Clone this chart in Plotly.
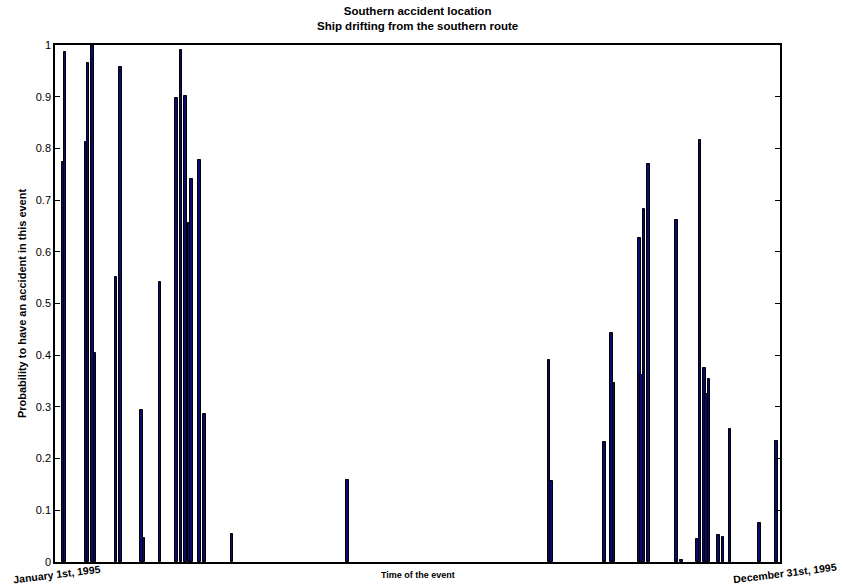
import plotly.graph_objects as go

# Day of year of each event (1995)
days = [4.1, 5.1, 15.5, 16.6, 18.9, 20.2, 30.7, 33.1, 43.6, 44.8,
        52.9, 61.1, 63.5, 65.8, 67.5, 68.7, 72.7, 75.2, 89.2, 147.3,
        248.7, 249.9, 276.7, 280.1, 281.4, 294.3, 295.4, 296.6, 298.9, 313.0,
        315.4, 323.5, 324.7, 327.0, 328.1, 329.3, 334.0, 336.2, 339.9, 354.8,
        363.1]
# Probability to have an accident in each event
probs = [0.774, 0.986, 0.813, 0.966, 1.0, 0.404, 0.552, 0.958, 0.294, 0.047,
         0.541, 0.897, 0.991, 0.902, 0.655, 0.740, 0.778, 0.286, 0.055, 0.159,
         0.391, 0.156, 0.232, 0.443, 0.346, 0.627, 0.362, 0.683, 0.770, 0.662,
         0.004, 0.044, 0.817, 0.375, 0.325, 0.354, 0.052, 0.049, 0.257, 0.076,
         0.234]

ytick_vals = [0, 0.1, 0.2, 0.3, 0.4, 0.5, 0.6, 0.7, 0.8, 0.9, 1]
ytick_text = ["0", "0.1", "0.2", "0.3", "0.4", "0.5", "0.6", "0.7", "0.8", "0.9", "1"]

FONT = "Liberation Sans, Arial, Helvetica, sans-serif"

fig = go.Figure()
fig.add_trace(go.Bar(
    x=days, y=probs, width=1.3,
    marker=dict(color="#0a0a6e", line=dict(color="black", width=1)),
    showlegend=False,
))

fig.update_layout(
    width=843, height=585,
    margin=dict(l=55, r=63, t=45, b=23),
    paper_bgcolor="white", plot_bgcolor="white",
    font=dict(family=FONT, color="black", size=10),
    bargap=0,
)

fig.update_xaxes(
    range=[0, 365], showticklabels=False, ticks="",
    showgrid=False, zeroline=False,
    showline=True, linecolor="black", linewidth=1.5, mirror=True,
)
fig.update_yaxes(
    range=[0, 1], tickvals=ytick_vals, ticktext=ytick_text,
    ticks="inside", ticklen=5, tickcolor="black", tickwidth=1,
    showgrid=False, zeroline=False,
    showline=True, linecolor="black", linewidth=1.5, mirror="allticks",
    tickfont=dict(size=11, family=FONT),
    title=dict(text="<b>Probability to have an accident in this event</b>",
               font=dict(size=11, family=FONT), standoff=7),
)

fig.add_annotation(text="<b>Southern accident location<br>Ship drifting from the southern route</b>",
                   xref="paper", yref="paper", x=0.5, y=1.021,
                   xanchor="center", yanchor="bottom", showarrow=False,
                   font=dict(size=11.5, family=FONT))
fig.add_annotation(text="<b>Time of the event</b>", xref="paper", yref="paper",
                   x=0.5, y=-0.012, xanchor="center", yanchor="top",
                   showarrow=False, font=dict(size=9, family=FONT))
fig.add_annotation(text="<b>January 1st, 1995</b>", xref="paper", yref="paper",
                   x=-0.061, y=0.003, xanchor="left", yanchor="top",
                   textangle=-7, showarrow=False, font=dict(size=10.5, family=FONT))
fig.add_annotation(text="<b>December 31st, 1995</b>", xref="paper", yref="paper",
                   x=1.0815, y=0.006, xanchor="right", yanchor="top",
                   textangle=-7, showarrow=False, font=dict(size=10.5, family=FONT))

fig.write_html("out.html")
